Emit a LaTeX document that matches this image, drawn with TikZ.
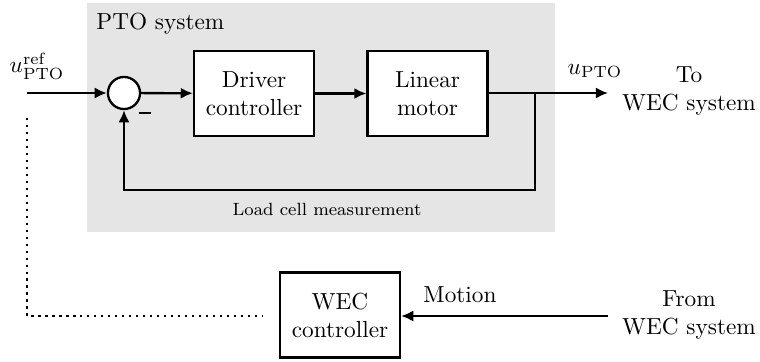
\documentclass[tikz,border=0pt]{standalone}
\usetikzlibrary{arrows.meta}
\begin{document}
\begin{tikzpicture}[x=0.43pt,y=-0.43pt,
  blk/.style={draw,line width=1pt,fill=white,minimum width=51.6pt,minimum height=36.6pt,align=center,inner sep=0pt},
  sumc/.style={draw,circle,line width=1pt,fill=white,minimum size=13.8pt,inner sep=0pt},
  conn/.style={line width=1pt},
  arr/.style={conn,-{Latex[length=5.2pt,width=4.8pt]}},
  lbl/.style={align=center,inner sep=0pt}]
\useasboundingbox (0,0) rectangle (760,361);
\fill[black!10] (87,3) rectangle (555,232);
\node[anchor=west,inner sep=0pt] (ptolbl) at (96,24) {PTO system};

\node[sumc] (sum) at (124,93) {};
\node[blk] (drv) at (254,93.5) {Driver\\controller};
\node[blk] (mot) at (427.5,93.5) {Linear\\motor};
\node[blk] (wec) at (340,315) {WEC\\controller};

\coordinate (in) at (27,93);
\coordinate (br) at (535,93);
\coordinate (out) at (608,93);
\coordinate (fb1) at (535,190);
\coordinate (fb2) at (124,190);
\coordinate (d1) at (27,118);
\coordinate (d2) at (27,316);
\coordinate (d3) at (262,316);
\coordinate (msrc) at (608,316);

\draw[arr] (in) -- (sum);
\draw[arr] (sum) -- (drv);
\draw[arr] (drv) -- (mot);
\draw[arr] (mot.east |- br) -- (out);
\draw[arr] (br) -- (fb1) -- (fb2) -- (sum);
\draw[arr] (msrc) -- (wec.east |- msrc);
\draw[conn,dotted] (d1) -- (d2) -- (d3);

\node[lbl] (minus) at (145,113) {\rule{5.2pt}{1.1pt}};
\node[lbl,font=\fontsize{7.6}{9}\selectfont] (load) at (327,209) {Load cell measurement};
\node[lbl] (uref) at (37,66) {$u_{\mathrm{PTO}}^{\mathrm{ref}}$};
\node[lbl] (upto) at (595,71) {$u_{\mathrm{PTO}}$};
\node[lbl] (towec) at (689,91) {To\\WEC system};
\node[lbl] (motion) at (460,295) {Motion};
\node[lbl] (fromwec) at (689,315) {From\\WEC system};
\end{tikzpicture}
\end{document}
